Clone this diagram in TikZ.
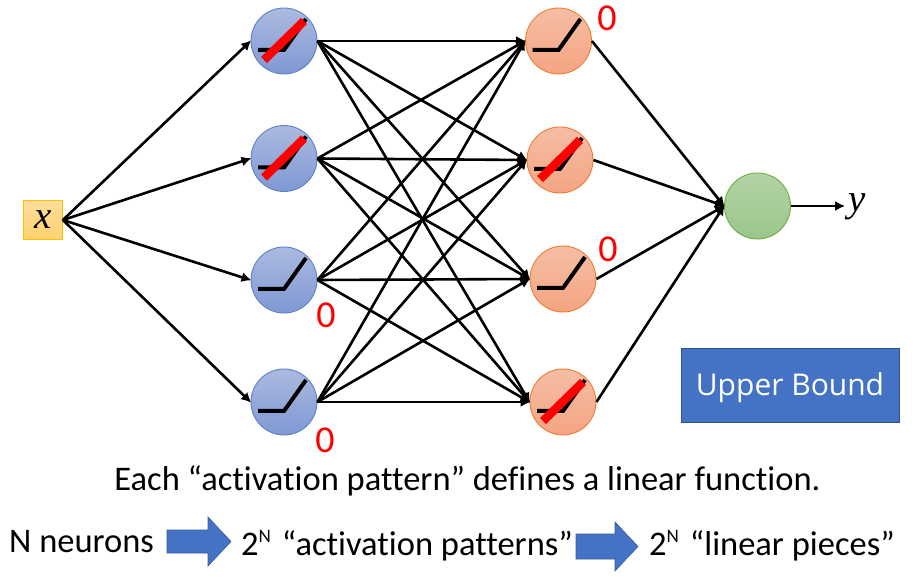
\documentclass[tikz,border=0pt]{standalone}
\usepackage{fontspec}
\setmainfont[Ligatures=NoCommon]{Carlito}
\newfontfamily\boxfont{Open Sans}
\newfontfamily\varfont{Liberation Serif}
\usetikzlibrary{arrows.meta}
\definecolor{blueedge}{HTML}{5B82C6}
\definecolor{bluetop}{HTML}{ABBADF}
\definecolor{bluebot}{HTML}{7F98D4}
\definecolor{orangeedge}{HTML}{ED7D31}
\definecolor{orangetop}{HTML}{F5BEA5}
\definecolor{orangebot}{HTML}{F5A482}
\definecolor{greenedge}{HTML}{70AD47}
\definecolor{greentop}{HTML}{B3D3A5}
\definecolor{greenbot}{HTML}{9AC68A}
\definecolor{yellowedge}{HTML}{FFC000}
\definecolor{yellowtop}{HTML}{FFDD9C}
\definecolor{yellowbot}{HTML}{FFD26F}
\definecolor{boxblue}{HTML}{4472C4}
\definecolor{boxedge}{HTML}{2F528F}
\tikzset{
  x=1pt,y=-1pt,
  neuron/.style={circle,minimum size=66pt,inner sep=0pt,line width=0.9pt},
  bluen/.style={neuron,draw=blueedge,top color=bluetop,bottom color=bluebot},
  orangen/.style={neuron,draw=orangeedge,top color=orangetop,bottom color=orangebot},
  greenn/.style={neuron,draw=greenedge,top color=greentop,bottom color=greenbot},
  conn/.style={line width=2.6pt,-{Latex[length=10pt,width=10pt]},shorten >=-1pt},
  kinkline/.style={line width=4pt},
  cross/.style={line width=8.5pt,red},
  zero/.style={text=red,font=\fontsize{38}{44}\selectfont,inner sep=0pt},
  lbl/.style={font=\fontsize{34.5}{40}\selectfont,inner sep=0pt,anchor=base west},
  fat/.style={fill=boxblue,draw=boxedge!70!boxblue,line width=0.6pt},
  varlabel/.style={font=\varfont\itshape\fontsize{39}{44}\selectfont,inner sep=0pt},
}
\newcommand{\kinkat}[1]{\draw[kinkline] ([shift={(-26,9)}]#1.center) -- ([shift={(0,9)}]#1.center) -- ([shift={(22,-22)}]#1.center);}
\newcommand{\crossat}[1]{\draw[cross] ([shift={(-20,19)}]#1.center) -- ([shift={(20,-20)}]#1.center);}
\newcommand{\supN}{\raisebox{13pt}{\fontsize{19}{22}\selectfont N}\hspace{11pt}}
\begin{document}
\begin{tikzpicture}
\useasboundingbox (0,0) rectangle (922,577);
\node[draw=yellowedge,line width=0.8pt,top color=yellowtop,bottom color=yellowbot,minimum size=39pt,inner sep=0pt,varlabel] (x) at (43,220) {x};
\node[bluen] (a1) at (284,41) {};
\node[bluen] (a2) at (284,158.5) {};
\node[bluen] (a3) at (284,280) {};
\node[bluen] (a4) at (284,402) {};
\node[orangen] (b1) at (558.5,41) {};
\node[orangen] (b2) at (560,160) {};
\node[orangen] (b3) at (563,279) {};
\node[orangen] (b4) at (563,402) {};
\node[greenn] (o) at (757.5,206) {};
\node[varlabel,minimum width=16pt] (y) at (857,207) {y};
\foreach \n in {a1,a2,a3,a4,b1,b2,b3,b4}{\kinkat{\n}}
\foreach \n in {a1,a2,b2,b4}{\crossat{\n}}
\foreach \i in {1,...,4}{
  \draw[conn] (x.east) -- (a\i.west);
  \foreach \j in {1,...,4}{\draw[conn] (a\i.east) -- (b\j.west);}
  \draw[conn] (b\i.east) -- (o.west);
}
\draw[conn] (o.east) -- ([xshift=-4pt]o.east -| y.west);
\node[zero] (z1) at (607,18) {0};
\node[zero] (z2) at (326,315) {0};
\node[zero] (z3) at (608,249) {0};
\node[zero] (z4) at (325,440) {0};
\node[fill=boxblue,draw=boxedge,line width=0.8pt,minimum width=218pt,minimum height=74pt,inner sep=0pt,text=white,font=\boxfont\fontsize{30}{36}\selectfont] (ub) at (790,385) {\raisebox{-11pt}[0pt][0pt]{Upper Bound}};
\node[inner sep=0pt,font=\fontsize{34.5}{40}\selectfont] (t0) at (467.5,481) {Each “activation pattern” defines a linear function.};
\node[lbl] (t1) at (9,552) {N neurons};
\node[lbl] (t2) at (241,555) {2\supN “activation patterns”};
\node[lbl] (t3) at (649,555) {2\supN “linear pieces”};
\fill[fat] (167,530) -- (208,530) -- (208,517) -- (231,541.5) -- (208,566) -- (208,553) -- (167,553) -- cycle;
\fill[fat] (576,534) -- (615,534) -- (615,522) -- (638,546.5) -- (615,571) -- (615,559) -- (576,559) -- cycle;
\end{tikzpicture}
\end{document}
